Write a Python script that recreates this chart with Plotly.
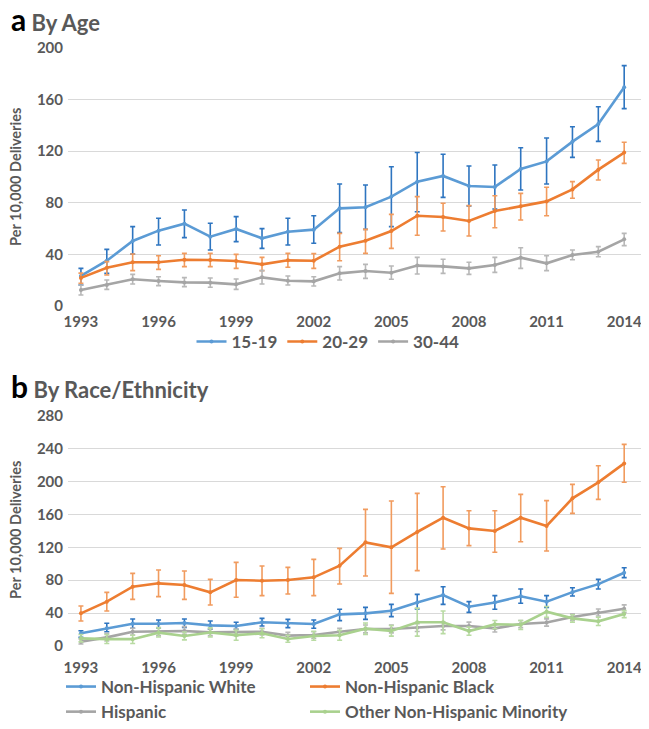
import plotly.graph_objects as go

W, H = 649, 729
OFF = 8  # page body margin
WF, HF = W - OFF, H - 2 * OFF

years = list(range(1993, 2015))
xtick_vals = [1993, 1996, 1999, 2002, 2005, 2008, 2011, 2014]

# Panel a: by age (rate per 10,000 deliveries, with CI bounds)
age_1519 = [23.3, 35.1, 50.4, 58.4, 63.8, 53.7, 59.7, 52.5, 57.6, 59.2, 75.7, 76.5, 84.8, 96.4, 100.8, 93.0, 92.3, 106.2, 112.1, 127.4, 141.1, 169.5]
age_1519_hi = [29.2, 43.9, 61.5, 68.0, 74.4, 64.1, 69.3, 60.0, 68.0, 70.0, 94.6, 93.8, 108.0, 119.0, 117.6, 108.5, 109.3, 122.7, 130.2, 139.0, 154.5, 186.3]
age_1519_lo = [16.3, 25.3, 40.3, 47.3, 53.0, 43.4, 49.9, 44.7, 47.3, 48.6, 56.9, 59.4, 61.5, 73.1, 84.2, 77.5, 75.2, 89.9, 94.6, 115.2, 127.6, 153.0]

age_2029 = [21.8, 29.7, 33.9, 33.9, 35.9, 35.7, 34.9, 32.3, 35.4, 35.1, 46.0, 50.6, 58.1, 70.0, 69.0, 65.9, 73.6, 77.3, 81.1, 90.4, 105.7, 118.9]
age_2029_hi = [25.5, 34.4, 40.3, 39.0, 40.8, 40.8, 40.0, 37.7, 40.8, 40.6, 56.3, 59.4, 71.0, 84.8, 79.6, 77.8, 85.5, 87.3, 92.0, 96.4, 113.2, 126.9]
age_2029_lo = [17.6, 24.0, 27.4, 28.4, 30.5, 30.5, 29.2, 27.4, 30.0, 29.2, 35.1, 40.8, 44.7, 54.8, 58.1, 54.3, 60.7, 66.7, 70.0, 83.5, 97.7, 110.6]

age_3044 = [12.4, 16.3, 20.7, 19.4, 18.3, 18.1, 16.8, 22.2, 19.6, 19.1, 25.3, 27.1, 25.8, 31.3, 30.7, 29.2, 31.8, 37.5, 33.1, 39.5, 42.1, 51.7]
age_3044_hi = [16.3, 20.2, 24.5, 22.7, 22.0, 21.7, 20.9, 27.4, 23.3, 22.7, 30.5, 32.3, 31.0, 37.7, 36.2, 33.9, 37.7, 45.2, 39.0, 43.4, 46.0, 56.3]
age_3044_lo = [8.5, 12.9, 17.1, 15.8, 15.0, 14.5, 12.9, 17.1, 16.3, 15.5, 20.2, 21.4, 20.7, 24.8, 25.3, 24.5, 26.1, 29.2, 27.4, 35.9, 38.2, 46.8]

# Panel b: by race/ethnicity
nh_white = [15.4, 21.5, 27.1, 27.1, 28.0, 25.1, 24.3, 28.8, 27.5, 26.7, 38.5, 39.7, 42.9, 53.0, 62.0, 47.8, 53.0, 60.5, 53.9, 65.5, 75.2, 89.1]
nh_white_hi = [18.6, 27.6, 32.8, 31.6, 32.8, 30.4, 28.8, 33.6, 32.4, 31.6, 44.6, 47.0, 50.6, 62.8, 72.1, 53.9, 61.2, 69.3, 61.2, 70.9, 81.0, 95.2]
nh_white_lo = [10.5, 17.4, 21.5, 21.5, 22.7, 20.3, 20.3, 24.3, 22.3, 21.5, 30.8, 32.4, 35.7, 45.0, 50.6, 40.9, 44.6, 51.9, 47.0, 60.8, 69.3, 83.1]

nh_black = [39.7, 53.9, 72.1, 76.2, 74.2, 65.2, 80.2, 79.4, 80.2, 83.5, 97.7, 126.0, 120.0, 138.6, 156.0, 143.0, 139.8, 156.0, 145.9, 179.5, 199.0, 222.0]
nh_black_hi = [48.6, 65.2, 88.3, 92.4, 91.2, 81.0, 101.7, 97.2, 95.6, 105.3, 118.7, 166.1, 176.3, 185.6, 193.7, 164.5, 164.5, 184.4, 176.7, 196.5, 219.2, 245.1]
nh_black_lo = [30.4, 42.5, 56.7, 60.0, 56.7, 49.8, 59.2, 61.2, 63.2, 61.2, 75.4, 85.1, 64.0, 91.6, 117.9, 122.0, 113.9, 126.8, 115.5, 161.3, 178.3, 199.0]

hispanic = [5.3, 10.5, 17.4, 17.4, 18.2, 16.6, 16.6, 17.4, 12.6, 13.4, 17.4, 20.7, 20.7, 22.3, 24.3, 24.3, 21.5, 26.7, 28.6, 35.2, 40.7, 45.4]
hispanic_hi = [8.5, 15.4, 21.5, 22.3, 23.5, 20.7, 20.7, 21.5, 16.6, 17.4, 21.5, 25.5, 25.5, 27.0, 29.0, 29.0, 26.0, 31.0, 33.0, 39.0, 45.0, 50.0]
hispanic_lo = [2.4, 6.1, 13.4, 12.6, 14.2, 12.6, 12.6, 13.4, 8.6, 9.4, 13.4, 16.0, 16.0, 17.6, 19.6, 19.6, 17.0, 22.4, 24.2, 31.4, 36.4, 40.8]

other_min = [9.3, 8.3, 8.3, 16.2, 12.2, 16.4, 13.2, 15.4, 8.5, 12.2, 13.0, 21.1, 18.4, 28.8, 28.8, 18.2, 26.3, 25.9, 41.7, 33.6, 30.0, 38.9]
other_min_hi = [14.0, 14.0, 13.0, 22.0, 17.0, 22.0, 19.0, 21.0, 13.0, 18.0, 19.0, 28.0, 25.0, 46.0, 42.5, 23.0, 31.0, 31.0, 48.0, 38.0, 35.0, 43.0]
other_min_lo = [5.0, 3.0, 3.0, 11.0, 7.5, 11.0, 7.0, 10.0, 4.5, 7.0, 7.0, 14.0, 12.0, 12.0, 15.0, 13.0, 21.0, 20.0, 35.0, 29.0, 25.0, 34.5]

FONT = "Lato"
GRAY_TXT = "#595959"

BLUE, BLUE_E = "#5B9BD5", "#2E75C0"
ORANGE, ORANGE_E = "#ED7D31", "#F19B5E"
GRAY, GRAY_E = "#A5A5A5", "#B8B8B8"
GREEN, GREEN_E = "#A9D18E", "#B9DBA3"

fig = go.Figure()


def add_series(name, vals, hi, lo, color, ecolor, xa, ya, legend):
    fig.add_trace(go.Scatter(
        x=years, y=vals, name=name, mode="lines+markers",
        line=dict(color=color, width=2.6),
        marker=dict(color=color, size=4),
        error_y=dict(type="data", symmetric=False,
                     array=[h - v for h, v in zip(hi, vals)],
                     arrayminus=[v - l for v, l in zip(vals, lo)],
                     color=ecolor, thickness=1.6, width=2.5),
        xaxis=xa, yaxis=ya, legend=legend, legendgroup=name,
    ))


add_series("15-19", age_1519, age_1519_hi, age_1519_lo, BLUE, BLUE_E, "x", "y", "legend")
add_series("20-29", age_2029, age_2029_hi, age_2029_lo, ORANGE, ORANGE_E, "x", "y", "legend")
add_series("30-44", age_3044, age_3044_hi, age_3044_lo, GRAY, GRAY_E, "x", "y", "legend")

add_series("Non-Hispanic White", nh_white, nh_white_hi, nh_white_lo, BLUE, BLUE_E, "x2", "y2", "legend2")
add_series("Hispanic", hispanic, hispanic_hi, hispanic_lo, GRAY, GRAY_E, "x2", "y2", "legend2")
add_series("Non-Hispanic Black", nh_black, nh_black_hi, nh_black_lo, ORANGE, ORANGE_E, "x2", "y2", "legend3")
add_series("Other Non-Hispanic Minority", other_min, other_min_hi, other_min_lo, GREEN, GREEN_E, "x2", "y2", "legend3")


def px(x):
    return (x - OFF) / WF


def py(y):
    return 1 - (y - OFF) / HF


xdom = [px(68), px(641)]
axis_x = dict(range=[1992.5, 2014.65], tickvals=xtick_vals, showgrid=False, zeroline=False,
              showline=False, ticks="", automargin=False, ticklabeloverflow="allow",
              tickfont=dict(family=FONT, size=15, color=GRAY_TXT, weight="bold"))
axis_y = dict(showgrid=True, gridcolor="#D9D9D9", gridwidth=1.3, zeroline=False, showline=False, ticks="",
              automargin=False, ticklabeloverflow="allow", ticklabelstandoff=4,
              tickfont=dict(family=FONT, size=15, color=GRAY_TXT, weight="bold"))

legend_font = dict(family=FONT, size=17, color=GRAY_TXT, weight="bold")
leg_common = dict(font=legend_font, itemwidth=30, bgcolor="rgba(0,0,0,0)", traceorder="grouped")

fig.update_layout(
    width=WF, height=HF,
    margin=dict(l=0, r=0, t=0, b=0, autoexpand=False),
    paper_bgcolor="white", plot_bgcolor="white",
    showlegend=True,
    xaxis=dict(axis_x, domain=xdom, anchor="y", ticklabelstandoff=5),
    yaxis=dict(axis_y, domain=[py(306), py(48)], range=[0, 200], tickvals=[0, 40, 80, 120, 160, 200], anchor="x"),
    xaxis2=dict(axis_x, domain=xdom, anchor="y2", ticklabelstandoff=11),
    yaxis2=dict(axis_y, domain=[py(646), py(415.7)], range=[0, 280],
                tickvals=[0, 40, 80, 120, 160, 200, 240, 280], anchor="x2"),
    legend=dict(leg_common, orientation="h", x=px(328), xanchor="center", y=py(342), yanchor="middle",
                tracegroupgap=0),
    legend2=dict(leg_common, orientation="v", x=px(61), xanchor="left", y=py(669), yanchor="top",
                 tracegroupgap=0),
    legend3=dict(leg_common, orientation="v", x=px(305), xanchor="left", y=py(669), yanchor="top",
                 tracegroupgap=0),
    annotations=[
        dict(text="<b><span style='color:#000000;font-size:30px'>a</span> By Age</b>",
             x=px(9), y=py(19), xref="paper", yref="paper", xanchor="left", yanchor="middle",
             showarrow=False, font=dict(family=FONT, size=22, color=GRAY_TXT)),
        dict(text="<b><span style='color:#000000;font-size:30px'>b</span> By Race/Ethnicity</b>",
             x=px(9), y=py(386), xref="paper", yref="paper", xanchor="left", yanchor="middle",
             showarrow=False, font=dict(family=FONT, size=22, color=GRAY_TXT)),
        dict(text="<b>Per 10,000 Deliveries</b>", textangle=-90,
             x=px(15), y=py(177), xref="paper", yref="paper", xanchor="center", yanchor="middle",
             showarrow=False, font=dict(family=FONT, size=14.5, color=GRAY_TXT)),
        dict(text="<b>Per 10,000 Deliveries</b>", textangle=-90,
             x=px(15), y=py(530), xref="paper", yref="paper", xanchor="center", yanchor="middle",
             showarrow=False, font=dict(family=FONT, size=14.5, color=GRAY_TXT)),
    ],
)

fig.write_html("out.html")
